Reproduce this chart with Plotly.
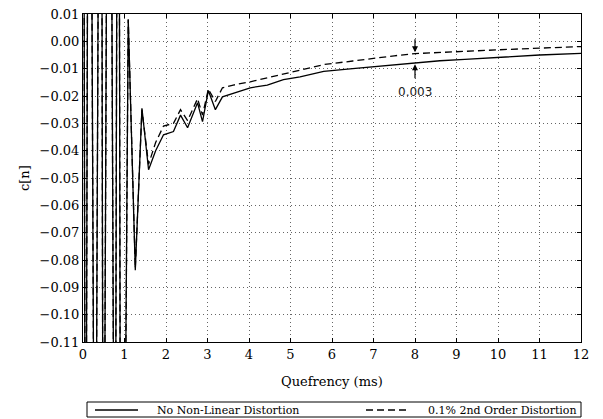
import plotly.graph_objects as go

# Quefrency samples (ms)
quefrency = [0.00, 0.06, 0.15, 0.29, 0.43, 0.49, 0.63, 0.77, 0.85, 0.91, 0.99, 1.09,
             1.26, 1.42, 1.58, 1.75, 1.94, 2.18, 2.35, 2.52, 2.76, 2.88, 3.02, 3.19,
             3.36, 3.62, 4.03, 4.44, 4.83, 5.23, 5.8, 6.5, 7.0, 7.5, 8.0, 8.6, 9.2,
             10.0, 11.0, 12.0]

c_no_distortion = [0.25, -0.25, 0.25, -0.25, 0.25, -0.25, 0.25, -0.25, 0.25, -0.25, -0.2, 0.008,
                   -0.0837, -0.0245, -0.047, -0.040, -0.0342, -0.033, -0.027, -0.0316, -0.0225, -0.0294, -0.0180, -0.025,
                   -0.0203, -0.019, -0.017, -0.016, -0.014, -0.013, -0.011, -0.0100, -0.0093, -0.0086, -0.0078, -0.0071, -0.0066,
                   -0.0058, -0.0050, -0.0044]

c_distortion = [0.25, -0.25, 0.25, -0.25, 0.25, -0.25, 0.25, -0.25, 0.25, -0.25, -0.2, 0.008,
                -0.083, -0.025, -0.045, -0.037, -0.031, -0.030, -0.025, -0.029, -0.021, -0.027, -0.0175, -0.022,
                -0.017, -0.016, -0.0148, -0.0133, -0.012, -0.0105, -0.0085, -0.0072, -0.0062, -0.0053, -0.0045, -0.0040, -0.0036,
                -0.0031, -0.0025, -0.0019]

series_names = ["No Non-Linear Distortion", "0.1% 2nd Order Distortion"]

x_ticks = list(range(0, 13))
y_ticks = [round(0.01 - 0.01 * i, 2) for i in range(13)]

SERIF = "DejaVu Serif"
L, R, T, B = 83, 22, 14, 77
PW, PH = 603 - L - R, 419 - T - B
PAD = "\u00a0" * 4  # gap between legend sample and its label


def px_x(p):
    return (p - L) / PW


def px_y(p):
    return (419 - B - p) / PH


fig = go.Figure()
fig.add_trace(go.Scatter(x=quefrency, y=c_no_distortion, mode="lines",
                         name=PAD + series_names[0],
                         line=dict(color="black", width=1.3), legend="legend"))
fig.add_trace(go.Scatter(x=quefrency, y=c_distortion, mode="lines",
                         name=PAD + series_names[1],
                         line=dict(color="black", width=1.3, dash="7px,4px"), legend="legend2"))

# annotation arrows at 8 ms
fig.add_annotation(x=8, y=-0.0040, ax=8, ay=0.0013, xref="x", yref="y", axref="x", ayref="y",
                   text="", showarrow=True, arrowhead=2, arrowsize=1, arrowwidth=1.2, arrowcolor="black")
fig.add_annotation(x=8, y=-0.0084, ax=8, ay=-0.0141, xref="x", yref="y", axref="x", ayref="y",
                   text="", showarrow=True, arrowhead=2, arrowsize=1, arrowwidth=1.2, arrowcolor="black")
fig.add_annotation(x=8, y=-0.0185, xref="x", yref="y", text="0.003", showarrow=False,
                   font=dict(family="DejaVu Sans", size=12, color="#222"))

# axis titles
fig.add_annotation(x=0.5, y=px_y(381), xref="paper", yref="paper", text="Quefrency (ms)",
                   showarrow=False, xanchor="center", yanchor="middle",
                   font=dict(family=SERIF, size=13, color="black"))
fig.add_annotation(x=px_x(24), y=0.5, xref="paper", yref="paper", text="c[n]", textangle=-90,
                   showarrow=False, xanchor="center", yanchor="middle",
                   font=dict(family=SERIF, size=13, color="black"))

# legend frame
fig.add_shape(type="rect", xref="paper", yref="paper", x0=px_x(87), x1=1.0, y0=px_y(417), y1=px_y(402),
              line=dict(color="black", width=1), fillcolor="rgba(0,0,0,0)")

axis_common = dict(showline=True, linecolor="black", linewidth=1, mirror="allticks",
                   ticks="inside", ticklen=4, tickcolor="black", automargin=False,
                   showgrid=True, gridcolor="#666", gridwidth=1, griddash="1px,3px",
                   zeroline=False, tickfont=dict(family=SERIF, size=13, color="black"))

legend_common = dict(yanchor="middle", xanchor="left", bgcolor="rgba(0,0,0,0)", borderwidth=0,
                     itemwidth=43, font=dict(family=SERIF, size=11, color="black"))

fig.update_layout(
    width=603, height=419,
    margin=dict(l=L, r=R, t=T, b=B, autoexpand=False),
    paper_bgcolor="white", plot_bgcolor="white",
    showlegend=True,
    xaxis=dict(range=[0, 12], tickvals=x_ticks, **axis_common),
    yaxis=dict(range=[-0.11, 0.01], tickvals=y_ticks, tickformat=".2f", **axis_common),
    legend=dict(x=px_x(90), y=px_y(410), **legend_common),
    legend2=dict(x=px_x(361), y=px_y(410), **legend_common),
)

fig.write_html("out.html", config={"displayModeBar": False},
               post_script="document.body.style.margin='0';document.body.style.overflow='hidden';")
